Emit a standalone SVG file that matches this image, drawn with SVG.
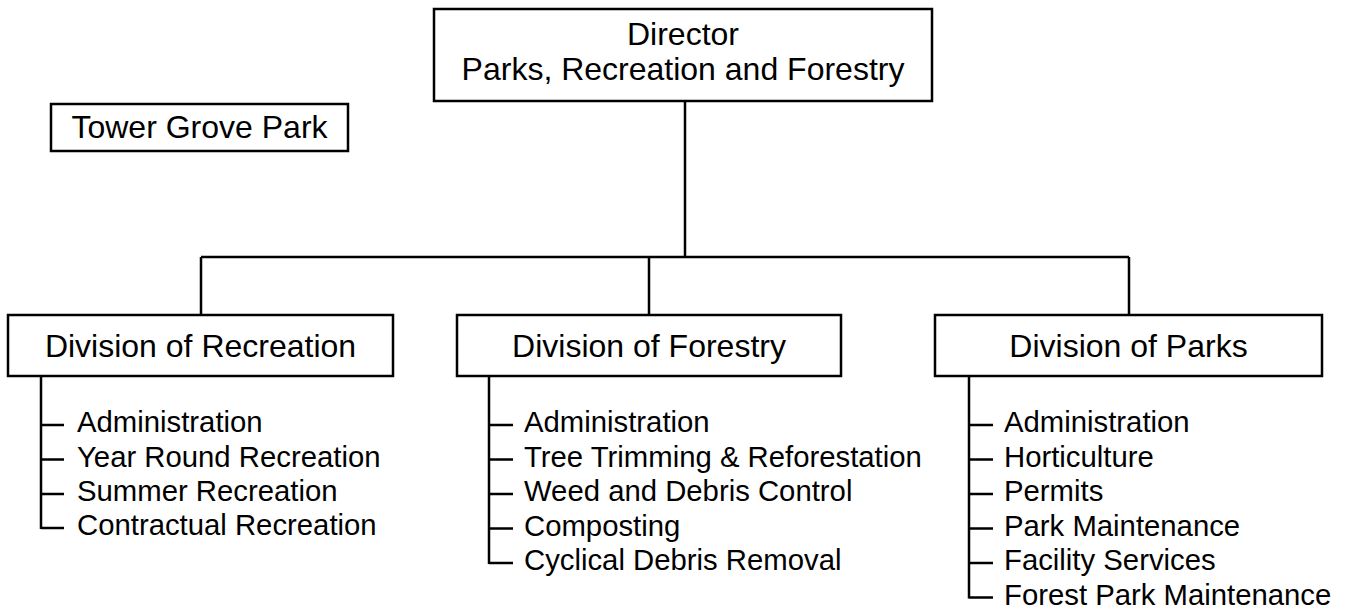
<svg xmlns="http://www.w3.org/2000/svg" width="1346" height="614" viewBox="0 0 1346 614">
<style>
.box{fill:#fff;stroke:#000;stroke-width:2.5}
.ln{fill:none;stroke:#000;stroke-width:2.5}
.t{font-family:"Liberation Sans",Arial,sans-serif;font-size:32px;fill:#000;text-anchor:middle}
.s{font-family:"Liberation Sans",Arial,sans-serif;font-size:29.3px;fill:#000}
</style>
<rect width="1346" height="614" fill="#fff"/>
<g id="connectors">
<path class="ln" d="M685,101 V257 M201,257 H1129 M201,257 V315 M649,257 V315 M1129,257 V315"/>
<path class="ln" d="M41,376 V529 M41,425 H64 M41,459.5 H64 M41,494 H64 M41,528 H64"/>
<path class="ln" d="M489,376 V564 M489,425 H513 M489,459.5 H513 M489,494 H513 M489,528.5 H513 M489,563 H513"/>
<path class="ln" d="M969,376 V598.5 M969,425 H993 M969,459.5 H993 M969,494 H993 M969,528.5 H993 M969,563 H993 M969,597.5 H993"/>
</g>
<g id="director">
<rect class="box" x="434" y="9" width="498" height="92"/>
<text class="t" x="683" y="45">Director</text>
<text class="t" x="683" y="80">Parks, Recreation and Forestry</text>
</g>
<g id="tower-grove">
<rect class="box" x="51" y="104" width="297" height="47"/>
<text class="t" x="199.5" y="138">Tower Grove Park</text>
</g>
<g id="recreation">
<rect class="box" x="8" y="315" width="385" height="61"/>
<text class="t" x="200.5" y="357">Division of Recreation</text>
<text class="s" x="77" y="432">Administration</text>
<text class="s" x="77" y="466.5">Year Round Recreation</text>
<text class="s" x="77" y="501">Summer Recreation</text>
<text class="s" x="77" y="535">Contractual Recreation</text>
</g>
<g id="forestry">
<rect class="box" x="457" y="315" width="384" height="61"/>
<text class="t" x="649" y="357">Division of Forestry</text>
<text class="s" x="524" y="432">Administration</text>
<text class="s" x="524" y="466.5">Tree Trimming &amp; Reforestation</text>
<text class="s" x="524" y="501">Weed and Debris Control</text>
<text class="s" x="524" y="535.5">Composting</text>
<text class="s" x="524" y="570">Cyclical Debris Removal</text>
</g>
<g id="parks">
<rect class="box" x="935" y="315" width="387" height="61"/>
<text class="t" x="1128.5" y="357">Division of Parks</text>
<text class="s" x="1004" y="432">Administration</text>
<text class="s" x="1004" y="466.5">Horticulture</text>
<text class="s" x="1004" y="501">Permits</text>
<text class="s" x="1004" y="535.5">Park Maintenance</text>
<text class="s" x="1004" y="570">Facility Services</text>
<text class="s" x="1004" y="604.5">Forest Park Maintenance</text>
</g>
</svg>
